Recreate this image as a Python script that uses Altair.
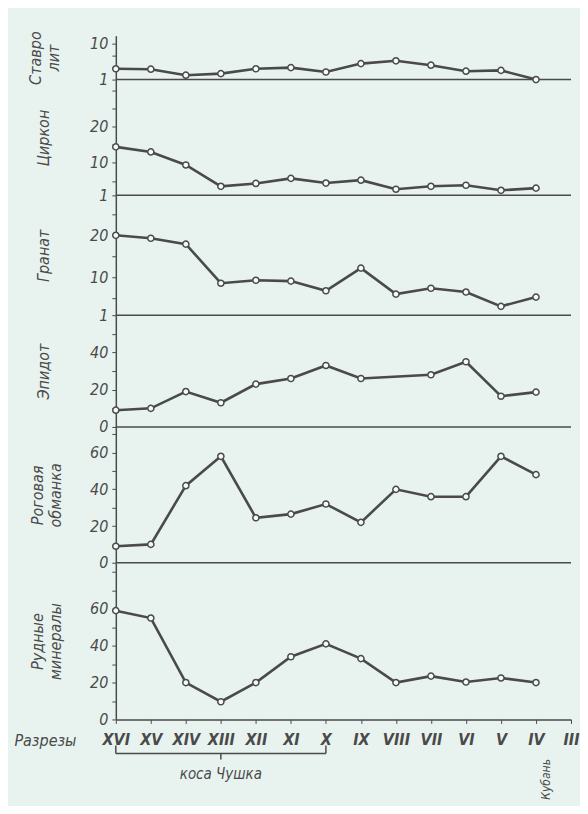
import altair as alt
import pandas as pd

sections = ["XVI", "XV", "XIV", "XIII", "XII", "XI", "X", "IX", "VIII", "VII", "VI", "V", "IV", "III"]

staurolite = [3.7, 3.6, 2.1, 2.5, 3.7, 4.0, 2.9, 5.0, 5.7, 4.6, 3.1, 3.3, 1.0, None]
zircon = [14.4, 13.0, 9.4, 3.5, 4.3, 5.7, 4.4, 5.2, 2.7, 3.5, 3.8, 2.4, 3.0, None]
garnet = [20.0, 19.3, 17.9, 8.6, 9.3, 9.1, 6.8, 12.2, 6.0, 7.4, 6.5, 3.1, 5.3, None]
epidote = [9, 10, 19, 13, 23, 26, 33, 26, None, 28, 35, 16.5, 18.7, None]
hornblende = [9, 10, 42, 58, 24.5, 26.5, 32, 22, 40, 36, 36, 58, 48, None]
ore = [59, 55, 20, 9.6, 20, 34, 41, 33, 20, 23.5, 20.3, 22.5, 20, None]

INK = "#4a4a4a"
BG = "#e8f3ef"
FONT = "Liberation Sans Narrow, DejaVu Sans Condensed, Liberation Sans, sans-serif"
W = 456

xscale = alt.Scale(domain=sections, type="point", padding=0)


def panel(values, title, domain, ticks, labels, height, title_x=-64, last=False):
    df = pd.DataFrame({"section": sections, "value": values}).dropna()
    if last:
        xaxis = alt.Axis(
            title="Разрезы", titleX=-71, titleY=21, titleAngle=0, titleAlign="center",
            titleBaseline="middle", titleFont=FONT, titleFontStyle="italic",
            titleFontSize=16, titleFontWeight="normal", titleColor=INK,
            labelFont=FONT, labelFontStyle="italic", labelFontSize=16,
            labelFontWeight="bold", labelColor=INK, labelPadding=8, labelAngle=0,
            ticks=True, tickSize=4, tickColor=INK, domainColor=INK, domainWidth=1.5,
            labelOverlap=False,
        )
    else:
        xaxis = None
    lab = "[" + ",".join(str(v) for v in labels) + "]"
    yaxis = alt.Axis(
        title=title, values=ticks,
        labelExpr=f"indexof({lab}, datum.value) >= 0 ? datum.label : ''",
        titleX=title_x, titleBaseline="bottom", titleAngle=270,
        titleFont=FONT, titleFontStyle="italic", titleFontSize=16,
        titleFontWeight="normal", titleColor=INK,
        labelFont=FONT, labelFontStyle="italic", labelFontSize=16, labelColor=INK,
        labelPadding=4, tickSize=4, tickColor=INK, domainColor=INK, domainWidth=1.5,
        grid=False, labelOverlap=False, labelBound=False, labelFlush=False,
    )
    yscale = alt.Scale(domain=domain, nice=False, zero=False)
    base = alt.Chart(df).encode(
        x=alt.X("section:O", scale=xscale, sort=sections, axis=xaxis),
        y=alt.Y("value:Q", scale=yscale, axis=yaxis),
    )
    line = base.mark_line(color=INK, strokeWidth=2.6)
    pts = base.mark_point(shape="circle", filled=True, fill="#f6fbf8", stroke=INK,
                          strokeWidth=1.5, size=38, opacity=1)
    layers = [line, pts]
    if not last:
        baseline = pd.DataFrame({"value": [domain[0]]})
        layers.insert(0, alt.Chart(baseline).mark_rule(color=INK, strokeWidth=1.5).encode(
            y=alt.Y("value:Q", scale=yscale, axis=yaxis)))
    else:
        brace = pd.DataFrame({"section": ["XVI"], "section_end": ["X"]})
        hooks = pd.DataFrame({"section": ["XVI", "X"]})
        mid = pd.DataFrame({"section": ["XIII"], "label": ["коса Чушка"]})
        river = pd.DataFrame({"section": ["IV"], "label": ["Кубань"]})
        layers += [
            alt.Chart(brace).mark_rule(color=INK, strokeWidth=1.5).encode(
                x=alt.X("section:O", scale=xscale, sort=sections, axis=xaxis),
                x2="section_end:O", y=alt.value(height + 34)),
            alt.Chart(hooks).mark_rule(color=INK, strokeWidth=1.5).encode(
                x=alt.X("section:O", scale=xscale, sort=sections, axis=xaxis),
                y=alt.value(height + 26), y2=alt.value(height + 34)),
            alt.Chart(mid).mark_rule(color=INK, strokeWidth=1.5).encode(
                x=alt.X("section:O", scale=xscale, sort=sections, axis=xaxis),
                y=alt.value(height + 34), y2=alt.value(height + 40)),
            alt.Chart(mid).mark_text(font=FONT, fontStyle="italic", fontSize=15,
                                     color=INK).encode(
                x=alt.X("section:O", scale=xscale, sort=sections, axis=xaxis),
                y=alt.value(height + 55), text="label:N"),
            alt.Chart(river).mark_text(font=FONT, fontStyle="italic", fontSize=12,
                                       color=INK, angle=270, dy=10).encode(
                x=alt.X("section:O", scale=xscale, sort=sections, axis=xaxis),
                y=alt.value(height + 60), text="label:N"),
        ]
    return alt.layer(*layers).properties(width=W, height=height)


p1 = panel(staurolite, ["Ставро", "лит"], [1, 12], [1, 4, 7, 10], [1, 10], 44, title_x=-72)
p2 = panel(zircon, "Циркон", [1, 33], [1, 5, 10, 15, 20, 25, 30], [1, 10, 20], 116)
p3 = panel(garnet, "Гранат", [1, 29.5], [1, 5, 10, 15, 20, 25], [1, 10, 20], 120)
p4 = panel(epidote, "Эпидот", [0, 60], [0, 10, 20, 30, 40, 50], [0, 20, 40], 112)
p5 = panel(hornblende, ["Роговая", "обманка"], [0, 74], [0, 10, 20, 30, 40, 50, 60, 70], [0, 20, 40, 60], 136, title_x=-70)
p6 = panel(ore, ["Рудные", "минералы"], [0, 85], [0, 10, 20, 30, 40, 50, 60, 70, 80], [0, 20, 40, 60], 157, title_x=-70, last=True)

chart = alt.vconcat(p1, p2, p3, p4, p5, p6, spacing=0, bounds="flush").properties(
    background=BG,
    padding={"left": 5, "top": 22, "right": 0, "bottom": 5},
).configure_view(stroke=None)

chart.save("out.html", embed_options={"renderer": "svg", "actions": False})
